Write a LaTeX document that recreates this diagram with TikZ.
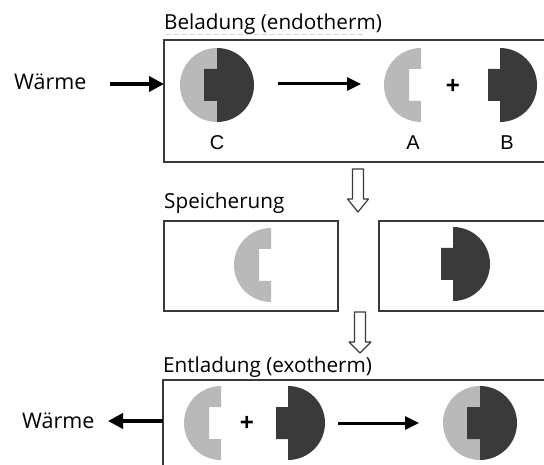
\documentclass[tikz,border=0pt]{standalone}
\usepackage{fontspec}
\setmainfont{Open Sans}
\newfontfamily\arialf{Liberation Sans}
\usetikzlibrary{arrows.meta}
\definecolor{lightpart}{HTML}{B9B9B9}
\definecolor{darkpart}{HTML}{3A3A3A}
\definecolor{framec}{HTML}{3A3A3A}
\tikzset{
  frame/.style={draw=framec, line width=1.4pt, fill=none},
  title/.style={anchor=base west, inner sep=0pt, font=\fontsize{20.7}{24}\selectfont},
  heat/.style={anchor=base west, inner sep=0pt, font=\fontsize{21.5}{24}\selectfont},
  letter/.style={inner sep=0pt, font=\arialf\fontsize{20}{22}\selectfont},
  plus/.style={inner sep=0pt, font=\arialf\bfseries\fontsize{24}{26}\selectfont},
  react/.style={line width=3pt, -{Triangle[length=14pt,width=13pt]}},
  heatarrow/.style={line width=4pt, -{Triangle[length=15pt,width=15pt]}},
  hollow/.style={draw=framec, line width=1.2pt, fill=white, line join=round},
  pics/partA/.style={code={
    \fill[lightpart] (0,37) arc[start angle=90,end angle=270,radius=37] -- (0,-16) -- (-12,-16) -- (-12,16) -- (0,16) -- cycle;}},
  pics/partB/.style={code={
    \fill[darkpart] (0,37) arc[start angle=90,end angle=-90,radius=37] -- (0,-16) -- (-12,-16) -- (-12,16) -- (0,16) -- cycle;}},
  pics/partC/.style={code={
    \fill[lightpart] (0,37) arc[start angle=90,end angle=270,radius=37] -- cycle;
    \fill[darkpart] (0,37) arc[start angle=90,end angle=-90,radius=37] -- (0,-16) -- (-13,-16) -- (-13,16) -- (0,16) -- cycle;}},
}
\begin{document}
\begin{tikzpicture}[x=1pt,y=-1pt]
\useasboundingbox (0,0) rectangle (544,465);
\begin{scope}
\clip (0,0) rectangle (544,465);
% boxes
\draw[frame] (164,40) rectangle (600,162);
\draw[frame] (164,221) rectangle (338,311);
\draw[frame] (379,221) rectangle (600,311);
\draw[frame] (163,380) rectangle (600,500);
\coordinate (box1w) at (164,84);
\coordinate (box3w) at (163,421);
% titles
\node[title] (t1) at (164,30) {Beladung (endotherm)};
\draw[gray!35, line width=0.8pt, dash pattern=on 5pt off 3pt] (166,34) -- (365,34);
\node[title] (t2) at (164,209) {Speicherung};
\node[title] (t3) at (163,373) {Entladung (exotherm)};
% heat
\node[heat] (w1) at (14,90) {Wärme};
\node[heat] (w2) at (22,428) {Wärme};
\draw[heatarrow] (110,84) -- (box1w);
\draw[heatarrow] (box3w) -- (108,421);
% top row
\pic at (217,85) {partC};
\pic at (421,85) {partA};
\pic at (500,85) {partB};
\node[plus] (p1) at (453,86) {+};
\node[letter] (lc) at (217,143) {C};
\node[letter] (la) at (413,143) {A};
\node[letter] (lb) at (507,143) {B};
\coordinate (r1s) at (278,84);
\coordinate (r1e) at (361,84);
\draw[react] (r1s) -- (r1e);
% middle
\pic at (271,265) {partA};
\pic at (453,264) {partB};
% hollow arrows
\draw[hollow] (352.5,169) -- (363.5,169) -- (363.5,199) -- (368.5,199) -- (358,212) -- (347.5,199) -- (352.5,199) -- cycle;
\draw[hollow] (354.5,312) -- (365.5,312) -- (365.5,342) -- (371,342) -- (360,353) -- (349,342) -- (354.5,342) -- cycle;
% bottom row
\pic at (221,423) {partA};
\node[plus] (p2) at (247,423) {+};
\pic at (288,423) {partB};
\coordinate (r2s) at (338,423);
\coordinate (r2e) at (419,423);
\draw[react] (r2s) -- (r2e);
\pic at (480,423) {partC};
\end{scope}
\end{tikzpicture}
\end{document}
